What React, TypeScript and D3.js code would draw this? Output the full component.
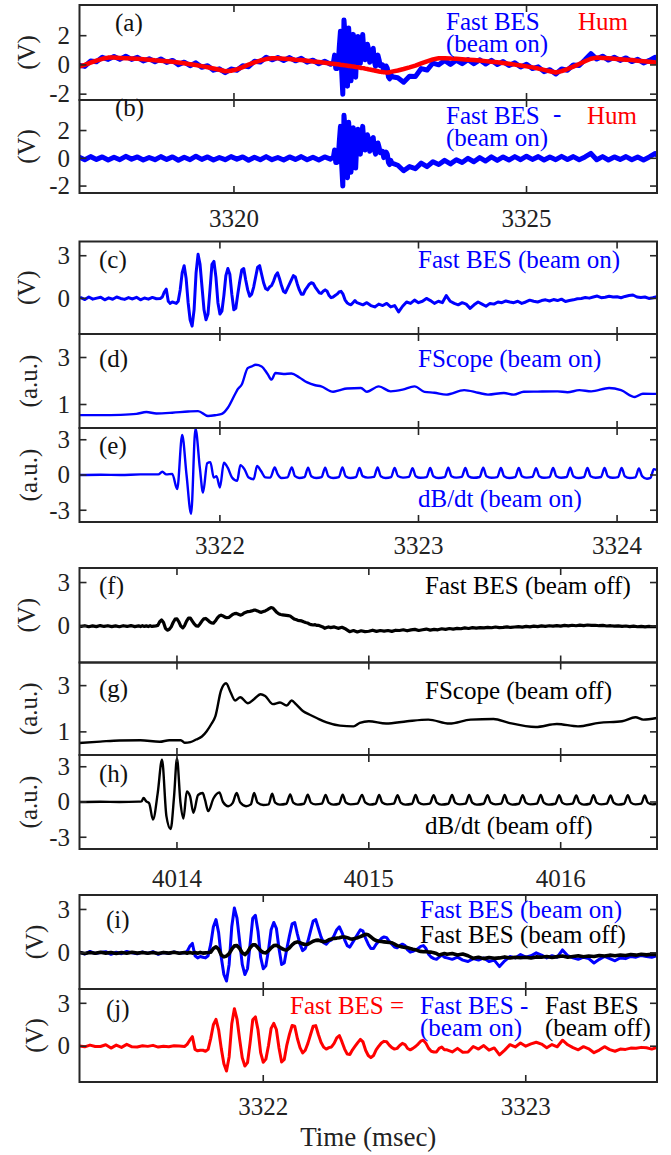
import React from "react";
import * as d3 from "d3";

// ---------------- DATA ----------------
// Panels (a)/(b): time grid (ms), hum-subtracted Fast BES (beam on) and Hum
const abT1 = [3317.35, 3317.45, 3317.55, 3317.65, 3317.75, 3317.85, 3317.95,
  3318.05, 3318.15, 3318.25, 3318.35, 3318.45, 3318.55, 3318.65, 3318.75, 3318.85, 3318.95,
  3319.05, 3319.15, 3319.25, 3319.35, 3319.45, 3319.55, 3319.65, 3319.75, 3319.85, 3319.95,
  3320.05, 3320.15, 3320.25, 3320.35, 3320.45, 3320.55, 3320.65, 3320.75, 3320.85, 3320.95,
  3321.05, 3321.15, 3321.25, 3321.35, 3321.45, 3321.55, 3321.65];
const abT2 = [3321.70, 3321.72, 3321.74, 3321.76, 3321.78, 3321.80, 3321.82, 3321.84, 3321.86, 3321.88,
  3321.90, 3321.92, 3321.94, 3321.96, 3321.98, 3322.00, 3322.02, 3322.04, 3322.06, 3322.08,
  3322.10, 3322.12, 3322.14, 3322.16, 3322.18, 3322.20, 3322.22, 3322.24, 3322.26, 3322.28,
  3322.30, 3322.32, 3322.34, 3322.36, 3322.38, 3322.40, 3322.42, 3322.44, 3322.46, 3322.48,
  3322.50, 3322.52, 3322.54, 3322.56, 3322.58, 3322.60, 3322.62, 3322.64, 3322.66, 3322.68, 3322.70];
const abT3 = [3322.80, 3322.90,
  3323.00, 3323.10, 3323.20, 3323.30, 3323.40, 3323.50, 3323.60, 3323.70, 3323.80, 3323.90,
  3324.00, 3324.10, 3324.20, 3324.30, 3324.40, 3324.50, 3324.60, 3324.70, 3324.80, 3324.90,
  3325.00, 3325.10, 3325.20, 3325.30, 3325.40, 3325.50, 3325.60, 3325.70, 3325.80, 3325.90,
  3326.00, 3326.10, 3326.20, 3326.30, 3326.40, 3326.50, 3326.60, 3326.70, 3326.80, 3326.90,
  3327.00, 3327.10, 3327.20, 3327.30];

const abBes1 = [0.1, -0.1, 0.12, -0.08, 0.1, -0.12, 0.08, -0.1, 0.14, -0.06, 0.1, -0.12, 0.06, -0.1,
  0.12, -0.08, 0.1, -0.14, 0.08, -0.1, 0.15, -0.08, 0.1, -0.12, 0.06, -0.1, 0.12, -0.06, 0.1, -0.14,
  0.08, -0.1, 0.12, -0.1, 0.06, -0.12, 0.1, -0.08, 0.12, -0.1, 0.08, -0.12, 0.1, -0.06];
const abBes2 = [0.1, 0.6, -0.3, -0.3, -0.2, 1.2, 2.3, -0.4, -2.0, 3.1, 2.0, -1.0, -1.4, 2.6, 1.2,
  -1.0, 0.4, 2.2, 0.6, -0.7, 1.2, 2.1, 0.6, 0.3, 1.5, 2.3, 1.1, 0.6, 0.9, 1.7, 1.4, 0.5, 0.7, 1.3,
  1.5, 0.6, 0.3, 0.8, 1.1, 0.8, 0.4, 0.5, 0.5, 0.05, 0.2, 0.45, 0.3, -0.3, -0.45, -0.15, -0.35];
const abBes3 = [-0.5, -0.9, -0.6, -0.75, -0.35, -0.6, -0.25, -0.45, -0.15, -0.4, -0.1, -0.3, 0.0,
  -0.25, 0.05, -0.2, 0.1, -0.15, 0.1, -0.12, 0.12, -0.1, 0.15, -0.08, 0.12, -0.12, 0.1, -0.1, 0.14,
  -0.08, 0.12, -0.1, 0.1, 0.35, -0.1, 0.12, -0.12, 0.1, -0.08, 0.12, -0.1, 0.1, -0.12, 0.1, 0.35, -0.05];

const abHum1 = [-0.11, 0.0, 0.15, 0.3, 0.42, 0.5, 0.5, 0.48, 0.46, 0.44, 0.42, 0.39, 0.36, 0.32,
  0.29, 0.25, 0.21, 0.16, 0.11, 0.05, -0.01, -0.08, -0.16, -0.24, -0.33, -0.43, -0.4, -0.3, -0.15,
  0.02, 0.17, 0.3, 0.4, 0.45, 0.45, 0.43, 0.4, 0.36, 0.33, 0.29, 0.24, 0.2, 0.15, 0.1];
const abHum2 = [0.08, 0.07, 0.06, 0.05, 0.04, 0.03, 0.01, 0.0, -0.01, -0.02, -0.03, -0.04, -0.05,
  -0.07, -0.08, -0.09, -0.1, -0.11, -0.12, -0.14, -0.15, -0.16, -0.18, -0.19, -0.21, -0.22, -0.23,
  -0.25, -0.27, -0.28, -0.3, -0.32, -0.33, -0.35, -0.37, -0.38, -0.4, -0.42, -0.43, -0.45, -0.46,
  -0.48, -0.49, -0.5, -0.51, -0.52, -0.52, -0.52, -0.5, -0.48, -0.46];
const abHum3 = [-0.38, -0.28, -0.17, -0.05, 0.1, 0.25, 0.38, 0.46, 0.46, 0.44, 0.42, 0.39, 0.36,
  0.33, 0.3, 0.26, 0.22, 0.18, 0.13, 0.08, 0.02, -0.04, -0.1, -0.17, -0.25, -0.34, -0.43, -0.52,
  -0.42, -0.28, -0.12, 0.06, 0.25, 0.42, 0.5, 0.48, 0.45, 0.42, 0.39, 0.36, 0.33, 0.29, 0.25, 0.21,
  0.17, 0.13];

// Fast BES, shared time grid in beam-on ms; beam-off time = beam-on time + 692.1
const BEAM_OFF_SHIFT = 692.1;
const besT_A = [3321.30, 3321.32, 3321.34, 3321.36, 3321.38, 3321.40, 3321.42, 3321.44, 3321.46,
  3321.48, 3321.50, 3321.52, 3321.54, 3321.56, 3321.58, 3321.60, 3321.62, 3321.64, 3321.66, 3321.68];
const besT_B = [3321.70, 3321.71, 3321.72, 3321.73, 3321.74, 3321.75, 3321.76, 3321.77, 3321.78, 3321.79,
  3321.80, 3321.81, 3321.82, 3321.83, 3321.84, 3321.85, 3321.86, 3321.87, 3321.88, 3321.89,
  3321.90, 3321.91, 3321.92, 3321.93, 3321.94, 3321.95, 3321.96, 3321.97, 3321.98, 3321.99,
  3322.00, 3322.01, 3322.02, 3322.03, 3322.04, 3322.05, 3322.06, 3322.07, 3322.08, 3322.09,
  3322.10, 3322.11, 3322.12, 3322.13, 3322.14, 3322.15, 3322.16, 3322.17, 3322.18, 3322.19,
  3322.20, 3322.21, 3322.22, 3322.23, 3322.24, 3322.25, 3322.26, 3322.27, 3322.28, 3322.29,
  3322.30, 3322.31, 3322.32, 3322.33, 3322.34, 3322.35, 3322.36, 3322.37, 3322.38, 3322.39,
  3322.40, 3322.41, 3322.42, 3322.43, 3322.44, 3322.45, 3322.46, 3322.47, 3322.48, 3322.49,
  3322.50, 3322.51, 3322.52, 3322.53, 3322.54, 3322.55, 3322.56, 3322.57, 3322.58, 3322.59,
  3322.60, 3322.61, 3322.62, 3322.63, 3322.64, 3322.65, 3322.66, 3322.67, 3322.68, 3322.69];
const besT_C = [3322.70, 3322.72, 3322.74, 3322.76, 3322.78, 3322.80, 3322.82, 3322.84, 3322.86,
  3322.88, 3322.90, 3322.92, 3322.94, 3322.96, 3322.98,
  3323.00, 3323.02, 3323.04, 3323.06, 3323.08, 3323.10, 3323.12, 3323.14, 3323.16, 3323.18,
  3323.20, 3323.22, 3323.24, 3323.26, 3323.28, 3323.30, 3323.32, 3323.34, 3323.36, 3323.38,
  3323.40, 3323.42, 3323.44, 3323.46, 3323.48, 3323.50, 3323.52, 3323.54, 3323.56, 3323.58,
  3323.60, 3323.62, 3323.64, 3323.66, 3323.68, 3323.70, 3323.72, 3323.74, 3323.76, 3323.78,
  3323.80, 3323.82, 3323.84, 3323.86, 3323.88, 3323.90, 3323.92, 3323.94, 3323.96, 3323.98,
  3324.00, 3324.02, 3324.04, 3324.06, 3324.08, 3324.10, 3324.12, 3324.14, 3324.16, 3324.18,
  3324.20, 3324.22, 3324.24, 3324.26, 3324.28, 3324.30, 3324.32, 3324.34, 3324.36, 3324.38, 3324.40];

const besOn_A = [0.05, -0.08, 0.1, -0.05, 0.02, 0.08, -0.1, 0.04, -0.06, 0.1, 0.0, -0.07, 0.06,
  -0.04, 0.08, -0.1, 0.03, -0.05, 0.07, -0.02];
const besOn_B = [0.0, 0.1, 0.45, 0.65, -0.2, -0.35, -0.25, -0.3, -0.35, -0.2,
  0.6, 1.8, 2.3, 1.4, -0.3, -1.5, -1.95, -0.8, 1.8, 3.1,
  2.4, 0.8, -0.8, -1.5, -1.1, 0.6, 2.4, 2.6, 1.5, -0.3,
  -1.1, -0.9, 0.2, 1.6, 2.1, 1.7, 0.3, -0.8, -0.7, 0.3,
  1.2, 2.0, 2.1, 1.3, 0.6, 0.15, 0.3, 0.8, 1.5, 2.2,
  2.3, 1.7, 1.1, 0.7, 0.6, 0.8, 0.9, 1.2, 1.6, 1.8,
  1.4, 0.9, 0.5, 0.4, 0.7, 1.0, 1.3, 1.6, 1.5, 1.0,
  0.6, 0.3, 0.3, 0.6, 0.8, 1.0, 1.1, 1.05, 0.8, 0.6,
  0.4, 0.35, 0.5, 0.6, 0.5, 0.2, 0.05, 0.1, 0.2, 0.3,
  0.45, 0.5, 0.3, -0.1, -0.3, -0.4, -0.45, -0.3, -0.15, -0.3];
const besOn_C = [-0.35, -0.45, -0.3, -0.5, -0.6, -0.4, -0.5, -0.35, -0.6, -0.5, -0.95, -0.55,
  -0.25, -0.35, -0.12,
  -0.3, -0.2, 0.0, -0.15, -0.35, -0.2, -0.3, 0.2, -0.2, -0.35, -0.45, -0.3, -0.4, -0.7, -0.45,
  -0.25, -0.4, -0.55, -0.35, -0.4, -0.25, -0.3, -0.18, -0.25, -0.3, -0.2, -0.35, -0.25, -0.12,
  -0.2, -0.25, -0.15, -0.1, -0.18, -0.08, -0.15, -0.05, -0.22, -0.15, -0.1, -0.02, 0.0, 0.06,
  0.02, 0.1, 0.17, 0.05, 0.08, 0.15, 0.1,
  0.12, 0.05, 0.14, 0.2, 0.24, 0.1, 0.06, 0.1, 0.0, 0.05, 0.12, 0.04, 0.08, 0.0, 0.05, -0.02,
  0.04, 0.0, 0.06, 0.02, 0.0];

const besOff_A = [0.03, -0.04, 0.02, -0.03, 0.04, -0.02, 0.03, -0.04, 0.02, -0.03, 0.04, -0.02,
  0.03, -0.03, 0.02, -0.04, 0.03, -0.02, 0.04, -0.03];
const besOff_B = [0.02, -0.03, 0.03, -0.02, 0.02, -0.03, 0.03, -0.02, 0.0, 0.02,
  0.05, 0.3, 0.42, 0.25, -0.15, -0.28, -0.22, -0.05, 0.25, 0.48,
  0.5, 0.3, 0.0, -0.12, 0.05, 0.35, 0.55, 0.55, 0.35, 0.15,
  0.02, 0.0, 0.15, 0.35, 0.5, 0.53, 0.42, 0.3, 0.22, 0.2,
  0.35, 0.55, 0.7, 0.76, 0.7, 0.62, 0.58, 0.6, 0.7, 0.8,
  0.86, 0.88, 0.82, 0.76, 0.8, 0.9, 0.95, 1.0, 1.02, 1.05,
  1.1, 1.1, 1.05, 0.98, 0.95, 1.0, 1.05, 1.12, 1.2, 1.28,
  1.25, 1.1, 0.95, 0.85, 0.8, 0.78, 0.76, 0.74, 0.72, 0.7,
  0.6, 0.5, 0.45, 0.4, 0.38, 0.36, 0.3, 0.25, 0.22, 0.15,
  0.1, 0.08, 0.1, 0.05, 0.05, 0.0, -0.05, -0.15, -0.1, -0.05];
const besOff_C = [-0.1, -0.05, -0.15, -0.08, -0.2, -0.38, -0.3, -0.4, -0.32, -0.38, -0.35, -0.28,
  -0.36, -0.3, -0.34,
  -0.3, -0.36, -0.28, -0.3, -0.25, -0.32, -0.26, -0.22, -0.3, -0.25, -0.2, -0.27, -0.22, -0.25,
  -0.18, -0.22, -0.16, -0.2, -0.15, -0.18, -0.12, -0.16, -0.1, -0.14, -0.1, -0.12, -0.08, -0.11,
  -0.06, -0.1, -0.08, -0.05, -0.09, -0.06, -0.03, -0.07, -0.02, -0.05, 0.0, -0.03, 0.02, -0.02,
  0.03, 0.0, 0.04, 0.0, 0.05, 0.02, 0.06, 0.03,
  0.07, 0.04, 0.08, 0.05, 0.06, 0.03, 0.05, 0.01, 0.03, 0.0, 0.02, -0.02, 0.01, -0.03, 0.0, -0.04,
  -0.01, -0.05, -0.02, -0.04, -0.03];

// FScope (beam on), beam-on ms
const fsOnT = [3321.29, 3321.40, 3321.50, 3321.58, 3321.63, 3321.68, 3321.76, 3321.84, 3321.89,
  3321.94, 3321.98, 3322.01, 3322.04, 3322.08, 3322.09, 3322.11, 3322.14, 3322.16, 3322.18, 3322.21,
  3322.24, 3322.26, 3322.28, 3322.32, 3322.36, 3322.40, 3322.44, 3322.48, 3322.51, 3322.57, 3322.60,
  3322.64, 3322.71, 3322.74, 3322.80, 3322.86, 3322.92, 3322.98, 3323.03, 3323.08, 3323.14, 3323.23,
  3323.30, 3323.35, 3323.43, 3323.48, 3323.53, 3323.60, 3323.70, 3323.75, 3323.81, 3323.87, 3323.96,
  3324.02, 3324.09, 3324.13, 3324.20];
const fsOnV = [0.55, 0.55, 0.56, 0.6, 0.68, 0.62, 0.65, 0.7, 0.72, 0.51, 0.55, 0.6, 0.86, 1.5,
  1.65, 1.85, 2.55, 2.62, 2.69, 2.62, 2.3, 2.06, 2.34, 2.3, 2.32, 2.15, 1.94, 1.82, 1.77, 1.54, 1.6,
  1.68, 1.7, 1.54, 1.77, 1.56, 1.63, 1.77, 1.54, 1.5, 1.42, 1.61, 1.5, 1.42, 1.49, 1.42, 1.54, 1.55,
  1.56, 1.52, 1.61, 1.56, 1.7, 1.61, 1.32, 1.46, 1.45];

// FScope (beam off), beam-off ms
const fsOffT = [4013.49, 4013.60, 4013.70, 4013.81, 4013.91, 4013.96, 4014.02, 4014.04, 4014.07,
  4014.10, 4014.13, 4014.155, 4014.18, 4014.20, 4014.23, 4014.256, 4014.28, 4014.303, 4014.33,
  4014.37, 4014.40, 4014.436, 4014.46, 4014.50, 4014.537, 4014.572, 4014.598, 4014.62, 4014.658,
  4014.69, 4014.728, 4014.78, 4014.85, 4014.92, 4014.953, 4015.00, 4015.09, 4015.20, 4015.31,
  4015.42, 4015.53, 4015.65, 4015.73, 4015.87, 4015.98, 4016.09, 4016.20, 4016.32, 4016.39,
  4016.43, 4016.50];
const fsOffV = [0.52, 0.58, 0.63, 0.64, 0.57, 0.64, 0.64, 0.53, 0.56, 0.67, 0.8, 1.03, 1.35, 1.67,
  2.8, 3.1, 2.7, 2.36, 2.5, 2.24, 2.4, 2.63, 2.55, 2.2, 2.27, 2.14, 2.36, 2.2, 1.89, 1.75, 1.6, 1.41,
  1.27, 1.24, 1.39, 1.46, 1.36, 1.46, 1.53, 1.36, 1.53, 1.56, 1.39, 1.21, 1.34, 1.24, 1.39, 1.46,
  1.63, 1.53, 1.6];

// dB/dt (beam on), beam-on ms
const dbOnT = [3321.29, 3321.40, 3321.50, 3321.60, 3321.69, 3321.71, 3321.73, 3321.76, 3321.785,
  3321.81, 3321.832, 3321.855, 3321.877, 3321.899, 3321.915, 3321.936, 3321.952, 3321.969, 3321.983,
  3322.00, 3322.02, 3322.04, 3322.061, 3322.087, 3322.103, 3322.124, 3322.145, 3322.17, 3322.187,
  3322.207, 3322.229, 3322.254, 3322.276, 3322.29, 3322.31, 3322.34,
  3322.362, 3322.378, 3322.40, 3322.426, 3322.444, 3322.46, 3322.485, 3322.512,
  3322.53, 3322.546, 3322.57, 3322.599, 3322.617, 3322.633, 3322.657, 3322.685,
  3322.703, 3322.719, 3322.745, 3322.776, 3322.794, 3322.81, 3322.835, 3322.862,
  3322.88, 3322.896, 3322.922, 3322.952, 3322.97, 3322.986, 3323.01, 3323.041,
  3323.059, 3323.075, 3323.10, 3323.132, 3323.15, 3323.166, 3323.19, 3323.218,
  3323.236, 3323.252, 3323.278, 3323.308, 3323.326, 3323.342, 3323.367, 3323.397,
  3323.415, 3323.431, 3323.457, 3323.487, 3323.505, 3323.521, 3323.545, 3323.574,
  3323.592, 3323.608, 3323.632, 3323.66, 3323.678, 3323.694, 3323.718, 3323.746,
  3323.764, 3323.78, 3323.805, 3323.833, 3323.851, 3323.867, 3323.892, 3323.919,
  3323.937, 3323.953, 3323.978, 3324.005, 3324.023, 3324.039, 3324.064, 3324.092,
  3324.11, 3324.126, 3324.15, 3324.168, 3324.185, 3324.201];
const dbOnV = [0.0, 0.02, 0.0, 0.05, 0.05, 0.28, 0.05, 0.1, -1.2,
  3.4, 0.0, -3.3, 3.95, 0.6, -1.5, 1.0, 1.1, -0.22, -0.1,
  -1.06, 1.04, 0.6, -0.22, -0.5, 0.84, 0.48, -0.22, -0.36, 0.76,
  0.34, -0.2, -0.22, 0.65, 0.1, -0.25, -0.2,
  0.65, -0.1, -0.25, -0.18, 0.62, -0.1, -0.25, -0.18,
  0.62, -0.1, -0.25, -0.18, 0.65, -0.1, -0.25, -0.18,
  0.6, -0.1, -0.22, -0.16, 0.65, -0.1, -0.25, -0.18,
  0.6, -0.08, -0.22, -0.16, 0.58, -0.1, -0.24, -0.18,
  0.6, -0.1, -0.25, -0.18, 0.62, -0.1, -0.22, -0.16,
  0.6, -0.1, -0.24, -0.17, 0.62, -0.1, -0.23, -0.18,
  0.6, -0.1, -0.25, -0.18, 0.6, -0.1, -0.22, -0.16,
  0.58, -0.1, -0.24, -0.18, 0.6, -0.1, -0.23, -0.17,
  0.62, -0.1, -0.25, -0.18, 0.6, -0.1, -0.23, -0.17,
  0.6, -0.1, -0.24, -0.18, 0.6, -0.1, -0.25, -0.2,
  0.55, -0.1, -0.32, -0.25, 0.5, 0.4];

// dB/dt (beam off), beam-off ms
const dbOffT = [4013.49, 4013.60, 4013.70, 4013.80, 4013.815, 4013.826, 4013.84, 4013.855, 4013.875,
  4013.90, 4013.922, 4013.945, 4013.967, 4013.985, 4014.00, 4014.018, 4014.034, 4014.051, 4014.068,
  4014.086, 4014.11, 4014.134, 4014.146, 4014.163, 4014.19, 4014.221, 4014.24, 4014.268, 4014.29,
  4014.311, 4014.33, 4014.36, 4014.385, 4014.402, 4014.42, 4014.45, 4014.478,
  4014.496, 4014.512, 4014.536, 4014.57, 4014.59, 4014.606, 4014.63, 4014.662,
  4014.682, 4014.698, 4014.722, 4014.755, 4014.775, 4014.791, 4014.815, 4014.845,
  4014.864, 4014.88, 4014.905, 4014.94, 4014.965, 4014.981, 4015.005, 4015.035,
  4015.054, 4015.07, 4015.095, 4015.13, 4015.15, 4015.166, 4015.19, 4015.225,
  4015.244, 4015.26, 4015.285, 4015.318, 4015.338, 4015.354, 4015.378, 4015.414,
  4015.434, 4015.45, 4015.474, 4015.504, 4015.523, 4015.539, 4015.563, 4015.598,
  4015.619, 4015.635, 4015.66, 4015.69, 4015.708, 4015.724, 4015.748, 4015.782,
  4015.802, 4015.818, 4015.842, 4015.876, 4015.896, 4015.912, 4015.937, 4015.972,
  4015.992, 4016.008, 4016.032, 4016.062, 4016.081, 4016.097, 4016.121, 4016.152,
  4016.171, 4016.187, 4016.211, 4016.24, 4016.26, 4016.276, 4016.3, 4016.33,
  4016.35, 4016.366, 4016.39, 4016.42, 4016.438, 4016.454, 4016.478, 4016.50];
const dbOffV = [0.0, 0.02, 0.0, 0.03, 0.05, 0.34, 0.05, -0.1, -1.5,
  0.8, 3.6, -1.2, -2.3, 0.5, 3.7, 0.0, -1.4, 0.9, 0.5,
  -0.92, 0.6, 0.76, 0.2, -0.78, 0.3, 0.81, 0.0, -0.36, -0.1,
  0.76, -0.05, -0.36, -0.2, 0.76, -0.05, -0.25, -0.2,
  0.7, -0.05, -0.22, -0.15, 0.65, -0.05, -0.22, -0.15,
  0.62, -0.05, -0.2, -0.14, 0.6, -0.05, -0.22, -0.15,
  0.62, -0.05, -0.2, -0.14, 0.6, -0.04, -0.22, -0.15,
  0.6, -0.05, -0.2, -0.14, 0.58, -0.05, -0.22, -0.15,
  0.6, -0.05, -0.2, -0.14, 0.58, -0.05, -0.22, -0.15,
  0.6, -0.05, -0.2, -0.14, 0.6, -0.05, -0.22, -0.15,
  0.58, -0.05, -0.2, -0.14, 0.6, -0.05, -0.22, -0.15,
  0.58, -0.05, -0.2, -0.14, 0.6, -0.05, -0.22, -0.15,
  0.58, -0.05, -0.2, -0.14, 0.56, -0.05, -0.22, -0.15,
  0.58, -0.05, -0.2, -0.14, 0.56, -0.05, -0.22, -0.15,
  0.58, -0.05, -0.2, -0.14, 0.56, -0.05, -0.2, -0.15];

// Axis ticks
const ticksAB = [3320, 3325];
const ticksCDE = [3322, 3323, 3324];
const ticksFGH = [4014, 4015, 4016];
const ticksIJ = [3322, 3323];

// ---------------- DERIVED ----------------
const abT = [...abT1, ...abT2, ...abT3];
const abBes = [...abBes1, ...abBes2, ...abBes3];
const abHum = [...abHum1, ...abHum2, ...abHum3];
const abRaw = abBes.map((v, i) => v + abHum[i]);
const besT = [...besT_A, ...besT_B, ...besT_C];
const besOn = [...besOn_A, ...besOn_B, ...besOn_C];
const besOff = [...besOff_A, ...besOff_B, ...besOff_C];
const besOffT = besT.map((t) => t + BEAM_OFF_SHIFT);
const besDiff = besOn.map((v, i) => v - besOff[i]);

// ---------------- RENDER ----------------
const FONT = "'Liberation Serif', 'Times New Roman', Times, serif";
const FS = 25;
const L = 79.5;
const R = 657;
const AX = "#262626";
const BLUE = "#0000ff";
const RED = "#ff0000";
const BLACK = "#000000";

type S = { t: number[]; v: number[]; color: string; w: number; smooth?: boolean };
// a text block: one or more lines drawn as tspans of a single <text>
type Tx = { x: number; y: number; lines: string[]; color: string; gap?: number };
type P = {
  id: string; top: number; bottom: number;
  xd: [number, number]; yd: [number, number];
  xt: number[]; yt: number[];
  yl: string; ylx: number;
  lab: string; labx: number; laby: number;
  series: S[]; texts: Tx[];
};

function Panel({ p }: { p: P }) {
  const x = d3.scaleLinear().domain(p.xd).range([L, R]);
  const y = d3.scaleLinear().domain(p.yd).range([p.bottom, p.top]);
  const mk = (s: S) => {
    const n = Math.min(s.t.length, s.v.length);
    const idx = d3.range(n);
    return d3.line<number>()
      .defined((i) => Number.isFinite(s.t[i]) && Number.isFinite(s.v[i]))
      .curve(s.smooth ? d3.curveMonotoneX : d3.curveLinear)
      .x((i) => x(s.t[i]))
      .y((i) => y(s.v[i]))(idx) ?? "";
  };
  const tk = 7;
  return (
    <g>
      <clipPath id={`clip-${p.id}`}>
        <rect x={L} y={p.top} width={R - L} height={p.bottom - p.top} />
      </clipPath>
      <g clipPath={`url(#clip-${p.id})`}>
        {p.series.map((s, k) => (
          <path key={k} d={mk(s)} fill="none" stroke={s.color} strokeWidth={s.w}
            strokeLinejoin="round" strokeLinecap="round" />
        ))}
      </g>
      {p.xt.map((t) => (
        <g key={`xt${t}`} stroke={AX} strokeWidth={1.6}>
          <line x1={x(t)} x2={x(t)} y1={p.top} y2={p.top + tk} />
          <line x1={x(t)} x2={x(t)} y1={p.bottom} y2={p.bottom - tk} />
        </g>
      ))}
      {p.yt.map((v) => (
        <g key={`yt${v}`}>
          <line x1={L} x2={L + tk} y1={y(v)} y2={y(v)} stroke={AX} strokeWidth={1.6} />
          <line x1={R} x2={R - tk} y1={y(v)} y2={y(v)} stroke={AX} strokeWidth={1.6} />
          <text x={70} y={y(v)} dy="0.33em" textAnchor="end" fontSize={FS} fill="#222">
            {v < 0 ? `-${Math.abs(v)}` : `${v}`}
          </text>
        </g>
      ))}
      <rect x={L} y={p.top} width={R - L} height={p.bottom - p.top} fill="none"
        stroke={AX} strokeWidth={2} />
      <text transform={`translate(${p.ylx},${(p.top + p.bottom) / 2}) rotate(-90)`}
        textAnchor="middle" dy="0.3em" fontSize={FS} fill="#222">{p.yl}</text>
      <text x={p.labx} y={p.laby} fontSize={FS} fill="#111">{p.lab}</text>
      {p.texts.map((t, k) => (
        <text key={k} x={t.x} y={t.y} fontSize={FS} fill={t.color}>
          {t.lines.map((s, j) => (
            <tspan key={j} x={t.x} dy={j === 0 ? 0 : (t.gap ?? 21)}>{s}</tspan>
          ))}
        </text>
      ))}
    </g>
  );
}

const dAB: [number, number] = [3317.36, 3327.23];
const dCDE: [number, number] = [3321.293, 3324.201];
const dFGH: [number, number] = [4013.492, 4016.502];
const dIJ: [number, number] = [3321.3, 3323.5];

const panels: P[] = [
  {
    id: "a", top: 5, bottom: 100, xd: dAB, yd: [-2.4, 4.1], xt: ticksAB, yt: [-2, 0, 2],
    yl: "(V)", ylx: 27, lab: "(a)", labx: 115, laby: 31,
    series: [
      { t: abT, v: abRaw, color: BLUE, w: 5 },
      { t: abT, v: abHum, color: RED, w: 4.5 },
    ],
    texts: [
      { x: 446, y: 30, lines: ["Fast BES", "(beam on)"], color: BLUE, gap: 22 },
      { x: 578, y: 30, lines: ["Hum"], color: RED },
    ],
  },
  {
    id: "b", top: 100, bottom: 193, xd: dAB, yd: [-2.5, 4.2], xt: ticksAB, yt: [-2, 0, 2],
    yl: "(V)", ylx: 27, lab: "(b)", labx: 115, laby: 116,
    series: [{ t: abT, v: abBes, color: BLUE, w: 5 }],
    texts: [
      { x: 446, y: 124, lines: ["Fast BES", "(beam on)"], color: BLUE, gap: 22 },
      { x: 553, y: 122, lines: ["-"], color: BLUE },
      { x: 587, y: 124, lines: ["Hum"], color: RED },
    ],
  },
  {
    id: "c", top: 241.5, bottom: 334, xd: dCDE, yd: [-2.5, 4], xt: ticksCDE, yt: [0, 3],
    yl: "(V)", ylx: 27, lab: "(c)", labx: 99, laby: 268,
    series: [{ t: besT, v: besOn, color: BLUE, w: 3 }],
    texts: [{ x: 418, y: 268, lines: ["Fast BES (beam on)"], color: BLUE }],
  },
  {
    id: "d", top: 334, bottom: 428, xd: dCDE, yd: [0, 4], xt: ticksCDE, yt: [1, 3],
    yl: "(a.u.)", ylx: 29, lab: "(d)", labx: 99, laby: 367,
    series: [{ t: fsOnT, v: fsOnV, color: BLUE, w: 2.4, smooth: true }],
    texts: [{ x: 418, y: 367, lines: ["FScope (beam on)"], color: BLUE }],
  },
  {
    id: "e", top: 428, bottom: 522, xd: dCDE, yd: [-4, 4], xt: ticksCDE, yt: [-3, 0, 3],
    yl: "(a.u.)", ylx: 29, lab: "(e)", labx: 99, laby: 454,
    series: [{ t: dbOnT, v: dbOnV, color: BLUE, w: 2.4, smooth: true }],
    texts: [{ x: 418, y: 507, lines: ["dB/dt (beam on)"], color: BLUE }],
  },
  {
    id: "f", top: 568, bottom: 662.5, xd: dFGH, yd: [-2.5, 4], xt: ticksFGH, yt: [0, 3],
    yl: "(V)", ylx: 27, lab: "(f)", labx: 99, laby: 594,
    series: [{ t: besOffT, v: besOff, color: BLACK, w: 3.2 }],
    texts: [{ x: 425, y: 594, lines: ["Fast BES (beam off)"], color: BLACK }],
  },
  {
    id: "g", top: 662.5, bottom: 755, xd: dFGH, yd: [0, 4], xt: ticksFGH, yt: [1, 3],
    yl: "(a.u.)", ylx: 29, lab: "(g)", labx: 99, laby: 697,
    series: [{ t: fsOffT, v: fsOffV, color: BLACK, w: 2.4, smooth: true }],
    texts: [{ x: 425, y: 699, lines: ["FScope (beam off)"], color: BLACK }],
  },
  {
    id: "h", top: 755, bottom: 849, xd: dFGH, yd: [-4, 4], xt: ticksFGH, yt: [-3, 0, 3],
    yl: "(a.u.)", ylx: 29, lab: "(h)", labx: 99, laby: 782,
    series: [{ t: dbOffT, v: dbOffV, color: BLACK, w: 2.4, smooth: true }],
    texts: [{ x: 425, y: 834, lines: ["dB/dt (beam off)"], color: BLACK }],
  },
  {
    id: "i", top: 895, bottom: 989, xd: dIJ, yd: [-2.5, 4], xt: ticksIJ, yt: [0, 3],
    yl: "(V)", ylx: 35, lab: "(i)", labx: 106, laby: 928,
    series: [
      { t: besT, v: besOn, color: BLUE, w: 3 },
      { t: besT, v: besOff, color: BLACK, w: 3.6 },
    ],
    texts: [
      { x: 420, y: 918, lines: ["Fast BES (beam on)"], color: BLUE },
      { x: 420, y: 943, lines: ["Fast BES (beam off)"], color: BLACK },
    ],
  },
  {
    id: "j", top: 989, bottom: 1082, xd: dIJ, yd: [-2.5, 4], xt: ticksIJ, yt: [0, 3],
    yl: "(V)", ylx: 35, lab: "(j)", labx: 106, laby: 1017,
    series: [{ t: besT, v: besDiff, color: RED, w: 3 }],
    texts: [
      { x: 290, y: 1014, lines: ["Fast BES ="], color: RED },
      { x: 420, y: 1014, lines: ["Fast BES -", "(beam on)"], color: BLUE, gap: 22 },
      { x: 545, y: 1014, lines: ["Fast BES", "(beam off)"], color: BLACK, gap: 22 },
    ],
  },
];

const xLabelRows: { d: [number, number]; ticks: number[]; y: number }[] = [
  { d: dAB, ticks: ticksAB, y: 227 },
  { d: dCDE, ticks: ticksCDE, y: 554 },
  { d: dFGH, ticks: ticksFGH, y: 887 },
  { d: dIJ, ticks: ticksIJ, y: 1115 },
];

export default function App() {
  return (
    <svg width={671} height={1155} viewBox="0 0 671 1155"
      style={{ position: "absolute", left: 0, top: 0, background: "#fff" }}
      fontFamily={FONT}>
      <rect x={0} y={0} width={671} height={1155} fill="#fff" />
      {panels.map((p) => <Panel key={p.id} p={p} />)}
      {xLabelRows.map((row, k) => {
        const x = d3.scaleLinear().domain(row.d).range([L, R]);
        return row.ticks.map((t) => (
          <text key={`${k}-${t}`} x={x(t)} y={row.y} textAnchor="middle" fontSize={FS} fill="#222">
            {t}
          </text>
        ));
      })}
      <text x={(L + R) / 2} y={1146} textAnchor="middle" fontSize={27} fill="#222">Time (msec)</text>
    </svg>
  );
}
